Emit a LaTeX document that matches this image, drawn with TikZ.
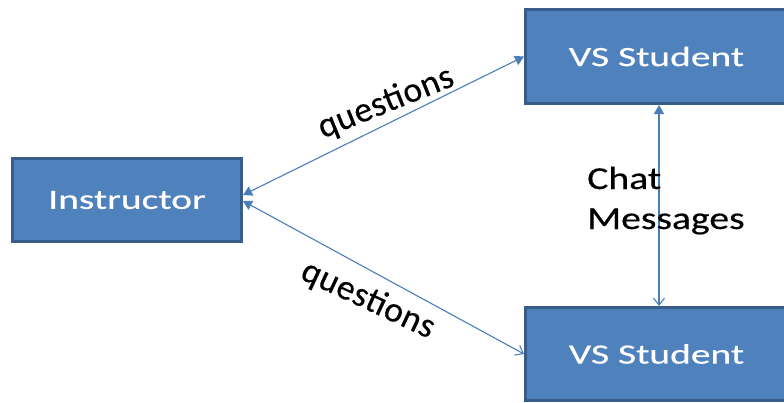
\documentclass[tikz,border=0pt]{standalone}
\usepackage{fontspec}
\setmainfont{Carlito}[FakeBold=0.35]
\newfontfamily\spacedfont{Carlito}[FakeBold=0.35, LetterSpace=1.5]
\usetikzlibrary{arrows.meta}
\definecolor{boxfill}{HTML}{4F81BD}
\definecolor{boxline}{HTML}{385D8A}
\definecolor{arrowcol}{HTML}{4A7EBB}
\tikzset{
  boxnode/.style={rectangle, draw=boxline, fill=boxfill, line width=3pt, inner sep=0pt},
  boxtext/.style={text=white, font=\fontsize{28}{33}\selectfont, inner sep=0pt, xscale=1.41},
  labeltext/.style={text=black, font=\fontsize{32}{40}\selectfont, inner sep=0pt},
  qtext/.style={text=black, font=\spacedfont\fontsize{35.5}{40}\selectfont, inner sep=0pt},
  conn/.style={draw=arrowcol, line width=1.1pt},
  filledtip/.tip={Triangle[length=9pt,width=10pt]},
  opentip/.tip={Straight Barb[length=7pt,width=11pt,line width=1.1pt]}
}
\begin{document}
\begin{tikzpicture}[x=1pt,y=-1pt]
\useasboundingbox (0,0) rectangle (784,402);
\clip (0,0) rectangle (784,402);
\fill[white] (0,0) rectangle (784,402);
% boxes
\node[boxnode, minimum width=229pt, minimum height=83pt] (inst) at (127,200) {};
\node[boxnode, minimum width=262pt, minimum height=94pt] (s1) at (656.5,56.5) {};
\node[boxnode, minimum width=262pt, minimum height=93pt] (s2) at (656.5,354) {};
\node[boxtext] (insttext) at (inst.center) {Instructor};
\node[boxtext] (s1text) at (s1.center) {VS Student};
\node[boxtext] (s2text) at (s2.center) {VS Student};
% connectors
\draw[conn, {filledtip}-{filledtip}] ([yshift=5pt]inst.east) -- (s1.west);
\draw[conn, {filledtip}-{opentip}] ([yshift=-1pt]inst.east) -- (s2.west);
\draw[conn, {filledtip}-{opentip}] ([xshift=2.5pt]s1.south) -- ([xshift=2.5pt]s2.north);
% labels
\node[qtext, rotate=22] (q1) at (386,103) {questions};
\node[qtext, rotate=-25] (q2) at (368,300) {questions};
\node[labeltext, xscale=1.24, anchor=base west, align=left] (chat) at (587,229) {Chat\\Messages};
\end{tikzpicture}
\end{document}
